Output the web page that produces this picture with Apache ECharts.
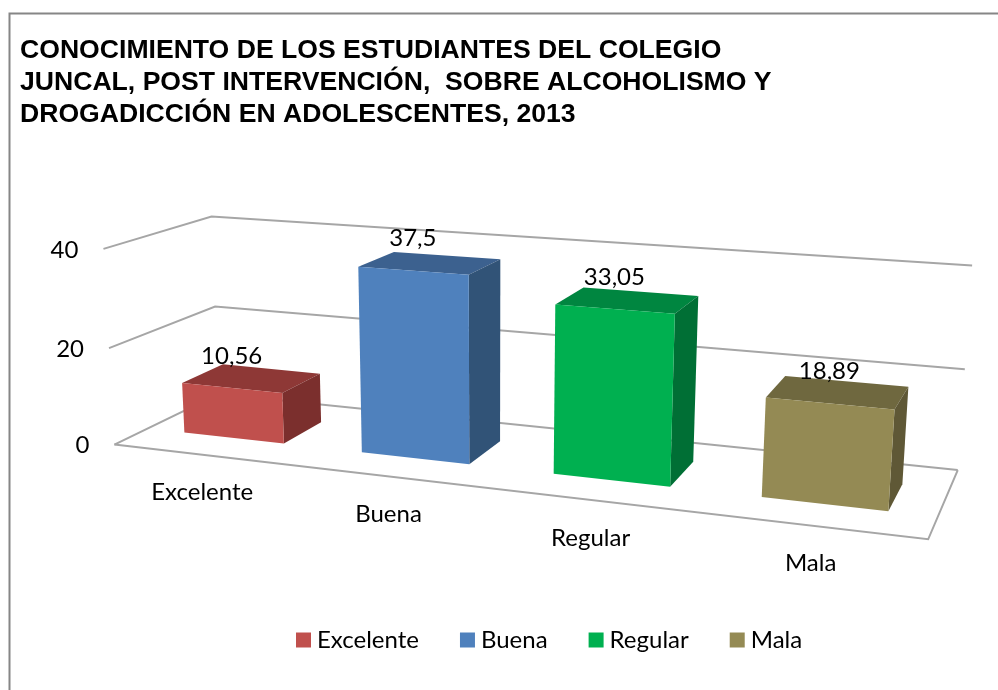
<!DOCTYPE html>
<html>
<head>
<meta charset="utf-8">
<style>html,body{margin:0;padding:0;background:#fff}#c{width:998px;height:690px}</style>
<script src="https://cdn.jsdelivr.net/npm/echarts@6/dist/echarts.min.js"></script>
</head>
<body>
<div id="c"></div>
<script>
const titleText = 'CONOCIMIENTO DE LOS ESTUDIANTES DEL COLEGIO\nJUNCAL, POST INTERVENCIÓN,  SOBRE ALCOHOLISMO Y\nDROGADICCIÓN EN ADOLESCENTES, 2013';
const categories = ['Excelente', 'Buena', 'Regular', 'Mala'];
const values = [10.56, 37.5, 33.05, 18.89];
const valueLabels = ['10,56', '37,5', '33,05', '18,89'];
const yTicks = [0, 20, 40];
const frontColors = ['#C0504D', '#4F81BD', '#00B050', '#948A54'];
const topColors = ['#8E3836', '#3C618F', '#008640', '#6F683F'];
const sideColors = ['#7B2F2D', '#315377', '#006F35', '#5F5836'];

// perspective box: [u, v, w] -> screen position of the plot-box corners
const boxCorners = [
  [0, 0, 0, 115, 443], [1, 0, 0, 928, 541], [1, 1, 0, 958, 468], [0, 1, 0, 218, 396],
  [0, 0, 1, 103, 249], [0, 1, 1, 212, 216], [1, 1, 1, 972, 266]
];
function solve(A, b) {
  const n = b.length, M = A.map((r, i) => r.concat(b[i]));
  for (let i = 0; i < n; i++) {
    let p = i;
    for (let r = i + 1; r < n; r++) if (Math.abs(M[r][i]) > Math.abs(M[p][i])) p = r;
    [M[i], M[p]] = [M[p], M[i]];
    for (let r = 0; r < n; r++) {
      if (r === i) continue;
      const f = M[r][i] / M[i][i];
      for (let c = i; c <= n; c++) M[r][c] -= f * M[i][c];
    }
  }
  return M.map((r, i) => r[n] / r[i]);
}
const H = (function () {
  const rows = [], rhs = [];
  boxCorners.forEach(([u, v, w, x, y]) => {
    rows.push([u, v, w, 1, 0, 0, 0, 0, -x * u, -x * v, -x * w]); rhs.push(x);
    rows.push([0, 0, 0, 0, u, v, w, 1, -y * u, -y * v, -y * w]); rhs.push(y);
  });
  const n = 11, A = [], b = [];
  for (let i = 0; i < n; i++) {
    A.push([]);
    b.push(rows.reduce((s, r, k) => s + r[i] * rhs[k], 0));
    for (let j = 0; j < n; j++) A[i].push(rows.reduce((s, r) => s + r[i] * r[j], 0));
  }
  return solve(A, b);
})();
function project(u, v, w) {
  const d = H[8] * u + H[9] * v + H[10] * w + 1;
  return [(H[0] * u + H[1] * v + H[2] * w + H[3]) / d, (H[4] * u + H[5] * v + H[6] * w + H[7]) / d];
}
const font = 'Lato';
const fontSize = 24;
const barRatio = 0.57, depthFront = 0.30, depthBack = 0.70;

function norm(params, pt) {
  const s = params.coordSys;
  return [(pt[0] - s.x) / s.width, (s.y + s.height - pt[1]) / s.height];
}
function label(pos, text, align) {
  return {
    type: 'text', x: pos[0], y: pos[1],
    style: { text: text, fill: '#000', fontSize: fontSize, fontFamily: font, align: align || 'center', verticalAlign: 'middle' }
  };
}
function renderFrame(params, api) {
  const w = norm(params, api.coord([0, api.value(1)]))[1];
  const points = [project(0, 0, w), project(0, 1, w), project(1, 1, w)];
  const children = [];
  if (w === 0) {
    children.push({ type: 'polyline', shape: { points: [project(0, 0, 0), project(1, 0, 0), project(1, 1, 0)] },
      style: { stroke: '#A6A6A6', lineWidth: 2, fill: 'none' } });
  }
  children.push({ type: 'polyline', shape: { points: points }, style: { stroke: '#A6A6A6', lineWidth: 2, fill: 'none' } });
  const p = project(0, 0, w);
  children.push(label([p[0] - 25, p[1] + 1], String(api.value(1)), 'right'));
  return { type: 'group', children: children };
}
function renderBar(i) {
  return function (params, api) {
    const c = norm(params, api.coord([api.value(0), 0]))[0];
    const h = norm(params, api.coord([api.value(0), api.value(1)]))[1];
    const half = api.size([1, 0])[0] / params.coordSys.width * barRatio / 2;
    const u0 = c - half, u1 = c + half, v0 = depthFront, v1 = depthBack;
    const front = [project(u0, v0, 0), project(u1, v0, 0), project(u1, v0, h), project(u0, v0, h)];
    const top = [project(u0, v0, h), project(u1, v0, h), project(u1, v1, h), project(u0, v1, h)];
    const side = [project(u1, v0, 0), project(u1, v1, 0), project(u1, v1, h), project(u1, v0, h)];
    const tc = project(c, v0, h), bc = project(c, 0, 0);
    return {
      type: 'group',
      children: [
        { type: 'polygon', shape: { points: top }, style: { fill: topColors[i] } },
        { type: 'polygon', shape: { points: side }, style: { fill: sideColors[i] } },
        { type: 'polygon', shape: { points: front }, style: { fill: frontColors[i] } },
        label([tc[0], tc[1] - 32], valueLabels[i]),
        label([bc[0], bc[1] + 38], categories[i])
      ]
    };
  };
}
const series = [{
  type: 'custom', name: 'marco', silent: true, z: 1,
  data: yTicks.map(t => [0, t]), encode: { x: 0, y: 1 },
  renderItem: renderFrame
}].concat(categories.map((c, i) => ({
  type: 'custom', name: c, z: 2, silent: true,
  itemStyle: { color: frontColors[i] },
  data: [[i, values[i]]], encode: { x: 0, y: 1 },
  renderItem: renderBar(i)
})));

const chart = echarts.init(document.getElementById('c'), null, { renderer: 'canvas' });
chart.setOption({
  animation: false,
  backgroundColor: '#fff',
  title: {
    text: titleText, left: 15, top: 30,
    textStyle: { fontFamily: 'Liberation Sans', fontWeight: 'bold', fontSize: 26.6, lineHeight: 32, color: '#000' }
  },
  grid: { left: 115, top: 249, width: 813, height: 194 },
  xAxis: { type: 'category', data: categories, show: false },
  yAxis: { type: 'value', min: 0, max: 40, interval: 20, show: false },
  legend: {
    data: categories, icon: 'rect', left: 291, top: 623, itemWidth: 15, itemHeight: 15, itemGap: 41,
    selectedMode: false,
    textStyle: { fontFamily: font, fontSize: fontSize, color: '#000', padding: [0, 0, 0, 1] }
  },
  graphic: [{
    type: 'polyline', silent: true, shape: { points: [[9.5, 700], [9.5, 13.5], [1010, 13.5]] },
    style: { stroke: '#868686', lineWidth: 2, fill: 'none' }
  }],
  series: series
});
</script>
</body>
</html>
